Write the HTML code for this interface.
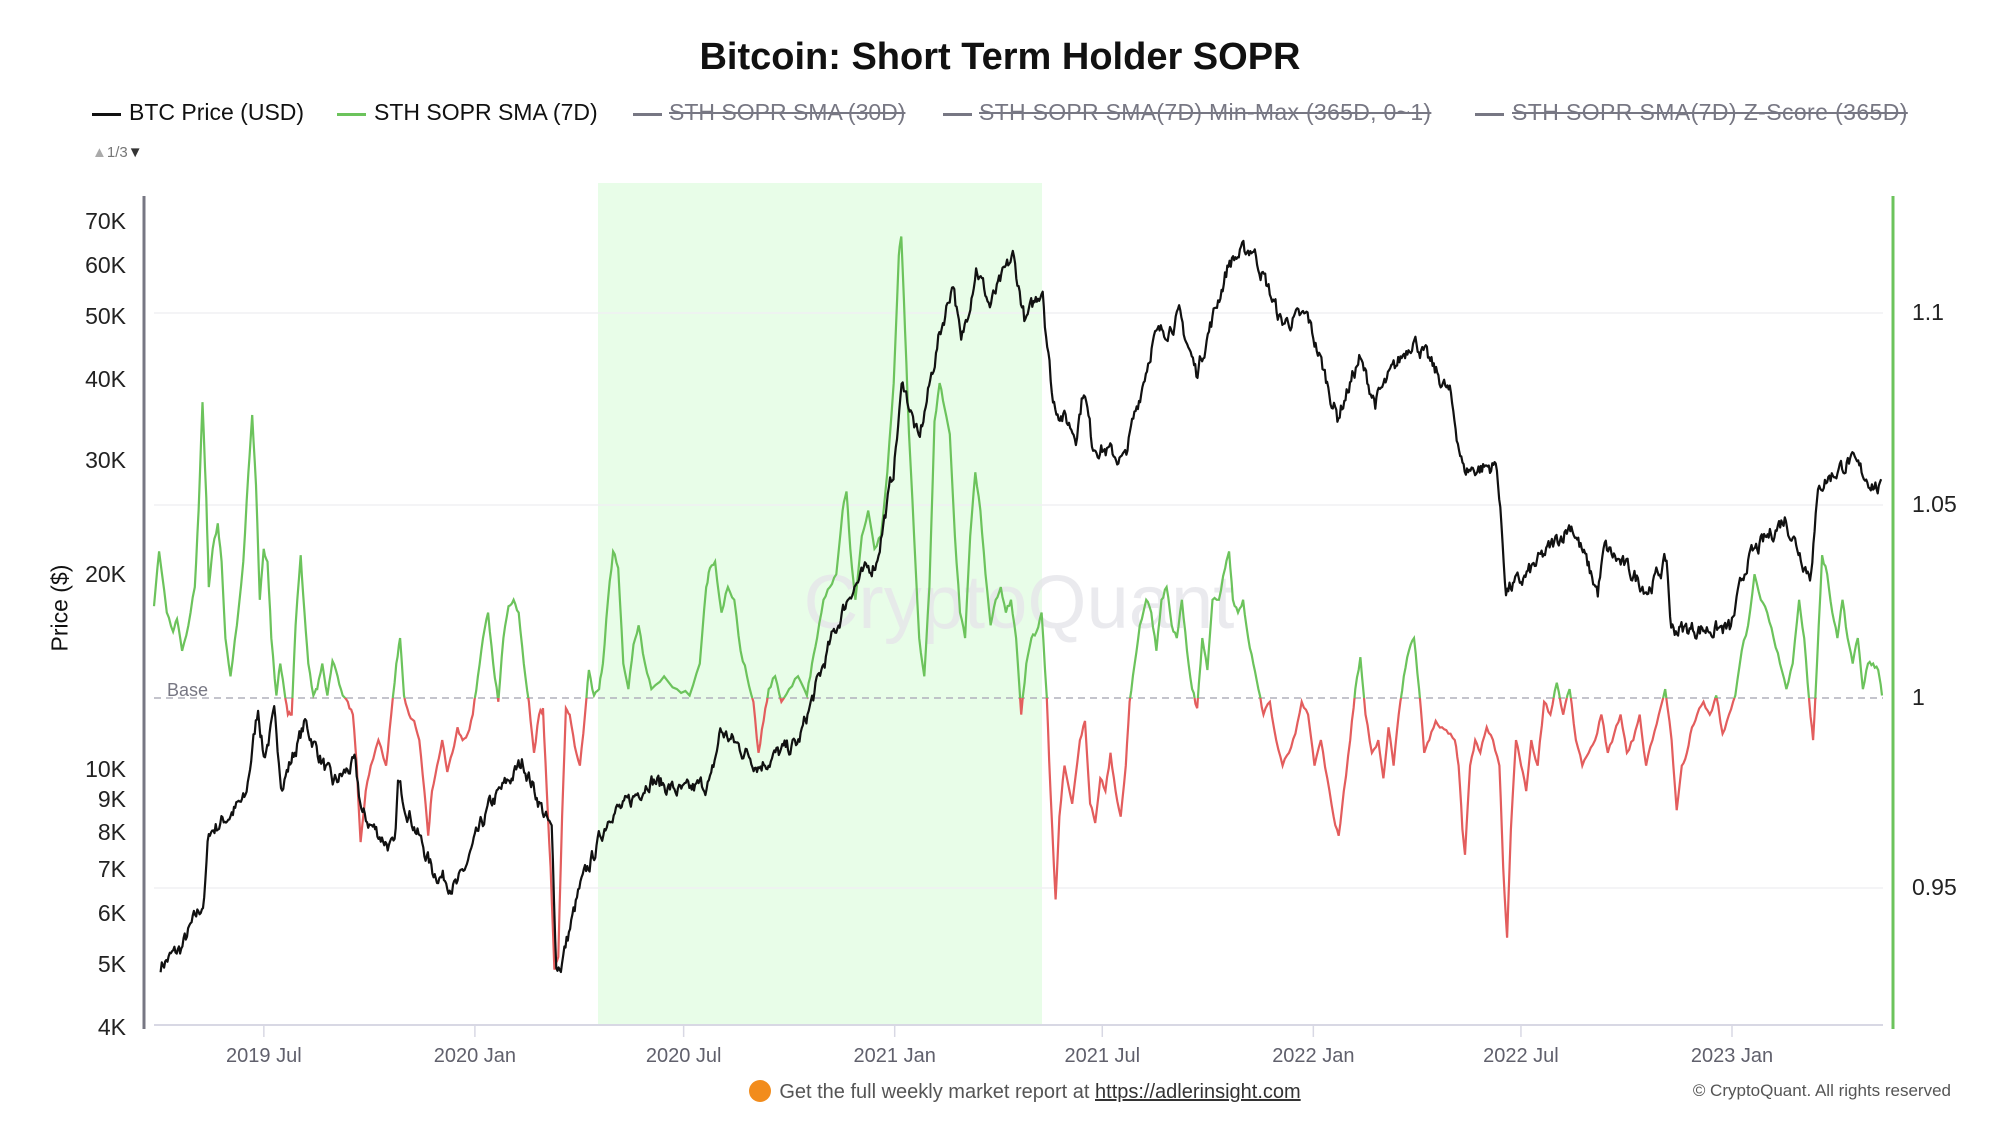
<!DOCTYPE html>
<html><head><meta charset="utf-8">
<style>
body{margin:0;background:#fff;font-family:"Liberation Sans",sans-serif;}
#c{position:relative;width:2000px;height:1125px;overflow:hidden;}
.t{position:absolute;white-space:nowrap;}
.leg{position:absolute;top:99px;font-size:23px;color:#111;}
.dash{position:absolute;top:113px;height:3px;width:29px;}
.st{color:#777783;text-decoration:line-through;}
.yl{position:absolute;font-size:23px;color:#222;text-align:right;width:80px;left:46px;}
.yr{position:absolute;font-size:23px;color:#222;left:1912px;}
.xl{position:absolute;font-size:20px;color:#60606c;top:1045px;width:160px;text-align:center;}
</style></head><body><div id="c">
<div class="t" style="left:0;width:2000px;text-align:center;top:36px;font-size:38px;font-weight:bold;color:#111;">Bitcoin: Short Term Holder SOPR</div>
<div class="dash" style="left:92px;background:#111"></div><div class="leg" style="left:129px">BTC Price (USD)</div>
<div class="dash" style="left:337px;background:#6cc35c"></div><div class="leg" style="left:374px">STH SOPR SMA (7D)</div>
<div class="dash" style="left:633px;background:#777783"></div><div class="leg st" style="left:669px">STH SOPR SMA (30D)</div>
<div class="dash" style="left:943px;background:#777783"></div><div class="leg st" style="left:979px;letter-spacing:0.3px">STH SOPR SMA(7D) Min-Max (365D, 0~1)</div>
<div class="dash" style="left:1475px;background:#777783"></div><div class="leg st" style="left:1512px;letter-spacing:0.4px">STH SOPR SMA(7D) Z-Score (365D)</div>
<div class="t" style="left:92px;top:144px;font-size:15px;color:#777"><span style="color:#aaa">▲</span>1/3<span style="color:#333">▼</span></div>
<div class="t" style="left:20px;top:598px;font-size:23px;color:#111;transform:rotate(-90deg);transform-origin:center;width:80px;text-align:center;">Price ($)</div>
<svg id="s" width="2000" height="1125" style="position:absolute;left:0;top:0">
<rect x="598" y="183" width="444" height="842" fill="#e8fde8"/>
<g stroke="#f0f0f3" stroke-width="1.5"><line x1="154" x2="1883" y1="313" y2="313"/><line x1="154" x2="1883" y1="505" y2="505"/><line x1="154" x2="1883" y1="888" y2="888"/></g>
<text x="1019" y="628" font-size="76" fill="#e6e6ea" text-anchor="middle" font-family="Liberation Sans, sans-serif" opacity="0.8">CryptoQuant</text>
<line x1="154" x2="1883" y1="698" y2="698" stroke="#b0b0bc" stroke-width="1.5" stroke-dasharray="7,5"/>
<text x="167" y="696" font-size="18" fill="#777783" font-family="Liberation Sans, sans-serif">Base</text>
<line x1="144" x2="144" y1="196" y2="1029" stroke="#777783" stroke-width="3"/>
<line x1="1893" x2="1893" y1="196" y2="1029" stroke="#6cc35c" stroke-width="3"/>
<line x1="154" x2="1883" y1="1025" y2="1025" stroke="#d8d8e4" stroke-width="2"/>
<defs><clipPath id="up"><rect x="0" y="0" width="2000" height="698"/></clipPath><clipPath id="dn"><rect x="0" y="698" width="2000" height="500"/></clipPath></defs>
<g id="ticks"></g>
<path id="sg" fill="none" stroke="#6cc35c" stroke-width="2.2" clip-path="url(#up)"/>
<path id="sr" fill="none" stroke="#e35d5d" stroke-width="2.2" clip-path="url(#dn)"/>
<path id="pr" fill="none" stroke="#111" stroke-width="2.2" stroke-linejoin="round"/>
</svg>
<div id="labels"></div>
<div class="t" style="left:0;width:2050px;text-align:center;top:1080px;font-size:20px;color:#555;"><span style="display:inline-block;width:22px;height:22px;border-radius:50%;background:#f28c1c;vertical-align:-4px;margin-right:8px"></span>Get the full weekly market report at <span style="text-decoration:underline;color:#333">https://adlerinsight.com</span></div>
<div class="t" style="right:49px;top:1081px;font-size:17px;color:#555;">© CryptoQuant. All rights reserved</div>
</div>
<script>
const J23=Date.UTC(2023,0,1);
function X(y,m,d){return 1732+(Date.UTC(y,m-1,d)-J23)/864e5*1.147;}
function Yp(p){return 770-648*Math.log10(p/10000);}
let L='';
[[70000,'70K'],[60000,'60K'],[50000,'50K'],[40000,'40K'],[30000,'30K'],[20000,'20K'],[10000,'10K'],[9000,'9K'],[8000,'8K'],[7000,'7K'],[6000,'6K'],[5000,'5K'],[4000,'4K']].forEach(a=>{L+=`<div class="yl" style="top:${Yp(a[0])-14}px">${a[1]}</div>`;});
[[313,'1.1'],[505,'1.05'],[698,'1'],[888,'0.95']].forEach(a=>{L+=`<div class="yr" style="top:${a[0]-14}px">${a[1]}</div>`;});
let T='';
[[2019,7,'2019 Jul'],[2020,1,'2020 Jan'],[2020,7,'2020 Jul'],[2021,1,'2021 Jan'],[2021,7,'2021 Jul'],[2022,1,'2022 Jan'],[2022,7,'2022 Jul'],[2023,1,'2023 Jan']].forEach(a=>{const x=X(a[0],a[1],1);L+=`<div class="xl" style="left:${x-80}px">${a[2]}</div>`;T+=`<line x1="${x}" x2="${x}" y1="1025" y2="1037" stroke="#d8d8e4" stroke-width="1.5"/>`;});
document.getElementById('labels').innerHTML=L;document.getElementById('ticks').innerHTML=T;
const P=[[2019,4,2,5000],[2019,4,20,5300],[2019,5,10,6300],[2019,5,14,8000],[2019,5,31,8500],[2019,6,15,9000],[2019,6,26,12500],[2019,7,1,10500],[2019,7,10,12000],[2019,7,17,9500],[2019,8,6,11800],[2019,8,30,9500],[2019,9,18,10200],[2019,9,25,8500],[2019,10,23,7500],[2019,10,26,9500],[2019,11,25,7000],[2019,12,17,6600],[2020,1,14,8800],[2020,2,12,10300],[2020,3,8,8000],[2020,3,12,5000],[2020,3,16,5000],[2020,4,1,6500],[2020,4,29,8700],[2020,5,10,8700],[2020,6,1,9700],[2020,7,1,9200],[2020,7,25,9600],[2020,8,2,11500],[2020,9,5,10200],[2020,10,9,11000],[2020,10,21,12800],[2020,11,5,15500],[2020,11,24,19000],[2020,12,16,21000],[2020,12,31,29000],[2021,1,8,40000],[2021,1,22,32000],[2021,2,8,46000],[2021,2,21,57000],[2021,2,28,45000],[2021,3,13,60000],[2021,3,25,52000],[2021,4,14,62000],[2021,4,25,49000],[2021,5,10,56000],[2021,5,12,50000],[2021,5,19,37000],[2021,6,8,33000],[2021,6,15,39000],[2021,6,22,32000],[2021,7,20,30000],[2021,8,14,46000],[2021,9,6,50000],[2021,9,21,41000],[2021,10,20,61000],[2021,11,9,64000],[2021,12,4,49000],[2021,12,27,50000],[2022,1,22,35000],[2022,2,10,43000],[2022,2,24,37000],[2022,3,29,46500],[2022,4,30,38000],[2022,5,12,29000],[2022,6,10,29500],[2022,6,18,19000],[2022,7,1,19500],[2022,8,14,24000],[2022,9,6,18800],[2022,9,12,22000],[2022,10,20,19000],[2022,11,5,21000],[2022,11,9,16500],[2022,12,31,16500],[2023,1,14,21000],[2023,2,16,24500],[2023,3,10,20000],[2023,3,18,27500],[2023,4,13,30000],[2023,5,11,27000]];
let seed=7;function rnd(){seed=(seed*16807)%2147483647;return seed/2147483647-0.5;}
let pts=[];for(let i=0;i<P.length-1;i++){const a=P[i],b=P[i+1];const x0=X(a[0],a[1],a[2]),x1=X(b[0],b[1],b[2]);const n=Math.max(1,Math.round((x1-x0)/1.15));for(let k=0;k<n;k++){const t=k/n;const lp=Math.log10(a[3])*(1-t)+Math.log10(b[3])*t;pts.push([x0+(x1-x0)*t,lp]);}}
const lb=P[P.length-1];pts.push([X(lb[0],lb[1],lb[2]),Math.log10(lb[3])]);
let nz=0,d='';pts.forEach((p,i)=>{nz=nz*0.6+rnd()*0.022;const y=770-648*(p[1]-4+nz);d+=(i?'L':'M')+p[0].toFixed(1)+','+y.toFixed(1);});
document.getElementById('pr').setAttribute('d',d);
const S=[[120,475],[124,432],[130,480],[135,495],[138,485],[142,510],[147,490],[152,460],[155,400],[158,315],[161,390],[163,460],[166,430],[170,410],[173,440],[176,500],[180,530],[185,490],[190,440],[194,370],[197,325],[200,380],[203,470],[206,430],[209,440],[212,500],[216,545],[219,520],[222,540],[225,560],[228,560],[231,490],[235,435],[238,480],[241,520],[245,545],[248,540],[252,520],[256,545],[260,518],[264,530],[268,545],[272,550],[276,560],[279,600],[282,660],[286,620],[290,600],[296,580],[302,600],[306,560],[310,520],[313,500],[316,545],[320,560],[324,565],[328,580],[332,620],[335,655],[338,620],[342,600],[346,580],[350,605],[354,590],[358,570],[362,580],[366,575],[370,560],[374,530],[378,500],[382,480],[386,520],[390,550],[394,500],[398,475],[402,470],[406,480],[410,520],[414,550],[418,590],[422,560],[425,555],[428,620],[431,680],[434,760],[437,750],[440,640],[443,555],[446,560],[450,585],[454,600],[458,560],[461,525],[465,545],[469,540],[472,520],[476,470],[480,432],[484,445],[488,520],[492,540],[496,505],[500,490],[505,520],[510,540],[520,530],[530,540],[540,545],[548,520],[553,460],[556,445],[560,440],[565,480],[570,460],[575,470],[580,510],[585,530],[590,550],[594,590],[598,565],[602,540],[607,530],[612,550],[618,540],[625,530],[632,545],[636,520],[640,500],[645,470],[650,460],[655,450],[660,400],[663,385],[666,430],[670,470],[675,420],[680,400],[685,430],[690,420],[695,370],[700,300],[704,200],[706,185],[709,260],[712,340],[716,420],[720,500],[724,530],[728,460],[732,330],[736,300],[740,320],[744,340],[748,420],[752,480],[756,500],[760,420],[764,370],[768,400],[772,450],[776,490],[780,470],[784,460],[788,480],[792,470],[796,500],[800,560],[804,520],[808,500],[812,495],[816,480],[820,545],[823,620],[827,705],[830,640],[834,600],[840,630],[846,580],[850,565],[854,630],[858,645],[862,610],[866,620],[870,590],[874,620],[878,640],[882,600],[885,550],[889,520],[893,490],[898,470],[902,480],[906,510],[910,470],[914,460],[918,490],[922,500],[926,470],[930,510],[934,540],[938,555],[942,500],[946,525],[950,470],[955,470],[960,445],[963,432],[966,470],[970,480],[974,470],[978,500],[982,520],[986,540],[990,560],[995,550],[1000,580],[1005,600],[1010,590],[1015,575],[1020,550],[1025,560],[1030,600],[1035,580],[1040,610],[1045,640],[1049,655],[1053,620],[1058,580],[1062,540],[1066,515],[1070,560],[1075,590],[1080,580],[1084,610],[1088,570],[1092,600],[1096,560],[1100,530],[1104,510],[1108,500],[1112,540],[1116,590],[1120,580],[1125,565],[1130,570],[1135,575],[1140,580],[1143,600],[1146,650],[1148,670],[1152,600],[1156,580],[1160,590],[1165,570],[1170,580],[1175,600],[1178,680],[1181,735],[1184,650],[1188,580],[1192,600],[1196,620],[1200,580],[1205,600],[1210,550],[1215,560],[1220,535],[1225,560],[1230,540],[1235,580],[1240,600],[1245,590],[1250,580],[1255,560],[1260,590],[1265,575],[1270,560],[1275,590],[1280,580],[1285,560],[1290,600],[1295,580],[1300,560],[1305,540],[1310,580],[1314,635],[1318,600],[1322,590],[1326,570],[1330,560],[1335,550],[1340,560],[1345,545],[1350,575],[1355,560],[1360,545],[1365,510],[1370,490],[1375,450],[1380,470],[1385,480],[1390,500],[1395,520],[1400,540],[1405,520],[1410,470],[1414,500],[1418,550],[1421,580],[1424,520],[1428,435],[1432,450],[1436,480],[1440,500],[1444,470],[1448,500],[1452,520],[1456,500],[1460,540],[1464,520],[1468,520],[1472,525],[1475,545]];
let sd='';let prev=null;S.forEach((p,i)=>{const x=154+(p[0]-120)*(1882-154)/(1475-120);const y=698+(p[1]-547)*1.275;if(prev){for(let k=1;k<=3;k++){const t=k/3;const xx=prev[0]+(x-prev[0])*t,yy=prev[1]+(y-prev[1])*t+(k<3?rnd()*5:0);sd+='L'+xx.toFixed(1)+','+yy.toFixed(1);}}else sd='M'+x.toFixed(1)+','+y.toFixed(1);prev=[x,y];});
document.getElementById('sg').setAttribute('d',sd);document.getElementById('sr').setAttribute('d',sd);
</script>
</body></html>
